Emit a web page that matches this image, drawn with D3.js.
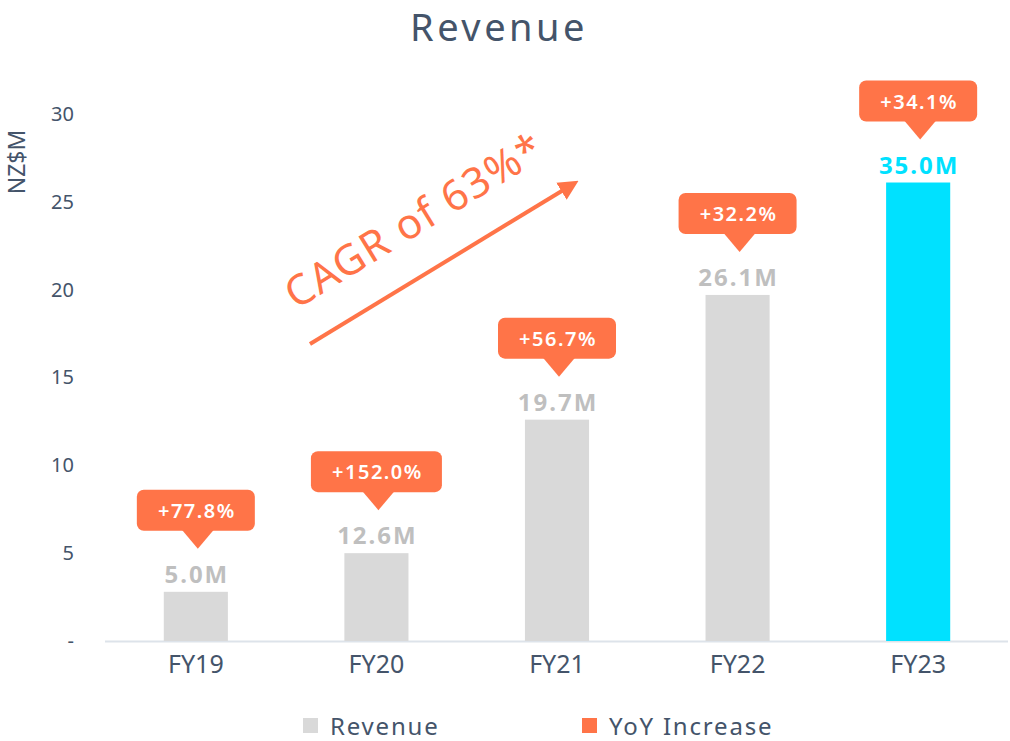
<!DOCTYPE html>
<html lang="en">
<head>
  <meta charset="utf-8">
  <title>Revenue</title>
<style>
  body { margin: 0; background: #fff; }
  text { font-family: "Noto Sans", "Open Sans", sans-serif; }
  .tick text { fill: #44546a; }
</style>
  <script src="https://d3js.org/d3.v7.min.js"></script>
</head>
<body>
  <svg width="1010" height="741"></svg>
  <script>
    // data
    var years = ["FY19", "FY20", "FY21", "FY22", "FY23"];
    var barValues = [2.8, 5.0, 12.6, 19.7, 26.1];      // bar heights as drawn on the axis
    var revenueLabels = [5.0, 12.6, 19.7, 26.1, 35.0]; // NZ$M shown above bars
    var yoyIncrease = [77.8, 152.0, 56.7, 32.2, 34.1];
    var yTicks = [0, 5, 10, 15, 20, 25, 30];

    var svg = d3.select("svg");
    var slate = "#44546a", orange = "#ff7448", grey = "#d9d9d9", cyan = "#00e1ff";

    var x = d3.scaleBand().domain(years).range([106, 1008]).paddingInner(0.645).paddingOuter(0.32);
    var y = d3.scaleLinear().domain([0, 30]).range([641, 114]);

    // title
    svg.append("text")
        .attr("x", 499).attr("y", 41)
        .attr("text-anchor", "middle")
        .attr("font-size", 38)
        .attr("letter-spacing", 3.5)
        .attr("fill", slate)
        .text("Revenue");

    // y axis (labels only)
    var yAxis = svg.append("g")
        .attr("transform", "translate(78,0)")
        .call(d3.axisLeft(y).tickValues(yTicks).tickSize(0).tickPadding(4)
            .tickFormat(function(d) { return d === 0 ? "-" : d; }));
    yAxis.select(".domain").remove();
    yAxis.selectAll("text").attr("font-size", 20).attr("font-family", "'Noto Sans', sans-serif");

    svg.append("text")
        .attr("transform", "translate(25,162) rotate(-90)")
        .attr("text-anchor", "middle")
        .attr("font-size", 23)
        .attr("fill", slate)
        .text("NZ$M");

    // baseline
    svg.append("line")
        .attr("x1", 105).attr("x2", 1008)
        .attr("y1", y(0) + 0.5).attr("y2", y(0) + 0.5)
        .attr("stroke", "#dde3ea").attr("stroke-width", 2);

    // x axis labels
    var xAxis = svg.append("g")
        .attr("transform", "translate(0," + (y(0) + 1) + ")")
        .call(d3.axisBottom(x).tickSize(0).tickPadding(13));
    xAxis.select(".domain").remove();
    xAxis.selectAll("text")
        .attr("font-size", 25)
        .attr("font-family", "'Liberation Sans Narrow', 'DejaVu Sans Condensed', sans-serif")
        .attr("dy", "0.72em");

    // bars
    svg.append("g").selectAll("rect")
        .data(years)
        .enter().append("rect")
        .attr("x", function(d) { return x(d); })
        .attr("width", x.bandwidth())
        .attr("y", function(d, i) { return y(barValues[i]); })
        .attr("height", function(d, i) { return y(0) - y(barValues[i]); })
        .attr("fill", function(d, i) { return i === years.length - 1 ? cyan : grey; });

    // value labels
    svg.append("g").selectAll("text")
        .data(years)
        .enter().append("text")
        .attr("x", function(d) { return x(d) + x.bandwidth() / 2 + 1; })
        .attr("y", function(d, i) { return y(barValues[i]) - 9; })
        .attr("text-anchor", "middle")
        .attr("font-size", 24)
        .attr("font-weight", "bold")
        .attr("letter-spacing", 2)
        .attr("fill", function(d, i) { return i === years.length - 1 ? cyan : "#bfbfbf"; })
        .text(function(d, i) { return revenueLabels[i].toFixed(1) + "M"; });

    // YoY callouts
    var callouts = svg.append("g").selectAll("g")
        .data(years)
        .enter().append("g")
        .attr("transform", function(d, i) {
            return "translate(" + (x(d) + x.bandwidth() / 2 + 2) + "," + (y(barValues[i]) - 61) + ")";
        });

    callouts.each(function(d, i) {
        var g = d3.select(this);
        var label = "+" + yoyIncrease[i].toFixed(1) + "%";
        var w = label.length * 13 + 40;
        g.append("rect")
            .attr("x", -w / 2 - 2).attr("y", -41)
            .attr("width", w).attr("height", 41)
            .attr("rx", 7)
            .attr("fill", orange);
        g.append("path")
            .attr("d", "M-16,-1 L16,-1 L0,18 Z")
            .attr("fill", orange);
        g.append("text")
            .attr("x", -1).attr("y", -13)
            .attr("text-anchor", "middle")
            .attr("font-size", 20)
            .attr("font-weight", 600)
            .attr("letter-spacing", 1.5)
            .attr("fill", "#fff")
            .text(label);
    });

    // CAGR arrow and text
    var defs = svg.append("defs");
    defs.append("marker")
        .attr("id", "arrow")
        .attr("viewBox", "0 0 10 10")
        .attr("refX", 5).attr("refY", 5)
        .attr("markerWidth", 5).attr("markerHeight", 5)
        .attr("orient", "auto")
        .append("path")
        .attr("d", "M0,0 L10,5 L0,10 Z")
        .attr("fill", orange);

    svg.append("line")
        .attr("x1", 310).attr("y1", 344)
        .attr("x2", 570).attr("y2", 186)
        .attr("stroke", orange)
        .attr("stroke-width", 4)
        .attr("marker-end", "url(#arrow)");

    svg.append("text")
        .attr("transform", "translate(296,310) rotate(-31.5)")
        .attr("font-size", 42)
        .attr("letter-spacing", 1.5)
        .attr("fill", orange)
        .text("CAGR of 63%*");

    // legend
    var legend = [
        { name: "Revenue", color: grey, x: 303 },
        { name: "YoY Increase", color: orange, x: 582 }
    ];
    var lg = svg.append("g").selectAll("g")
        .data(legend)
        .enter().append("g")
        .attr("transform", function(d) { return "translate(" + d.x + ",718)"; });
    lg.append("rect").attr("width", 15).attr("height", 15).attr("fill", function(d) { return d.color; });
    lg.append("text")
        .attr("x", 27).attr("y", 17)
        .attr("font-size", 24)
        .attr("letter-spacing", 1.8)
        .attr("fill", slate)
        .text(function(d) { return d.name; });
  </script>
</body>
</html>
